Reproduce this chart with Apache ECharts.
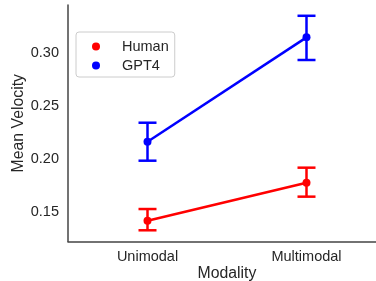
<!DOCTYPE html>
<html>
<head>
<meta charset="utf-8">
<style>
  html, body { margin: 0; padding: 0; background: #fff; }
  #myChart { width: 376px; height: 281px; }
</style>
<script src="https://cdn.jsdelivr.net/npm/echarts@6/dist/echarts.min.js"></script>
</head>
<body>
<div id="myChart"></div>
<script>
// data
const categories = ['Unimodal', 'Multimodal']
const humanMean = [0.1418, 0.1777]
const humanLow = [0.1327, 0.1645]
const humanHigh = [0.1528, 0.1919]
const gptMean = [0.2164, 0.3151]
const gptLow = [0.1985, 0.2937]
const gptHigh = [0.2344, 0.3355]
const yTicks = [0.15, 0.20, 0.25, 0.30]

const font = "'Liberation Sans', Arial, sans-serif"
const textColor = '#262626'

// vertical error bar with caps
function errorBar (color) {
  return function (params, api) {
    const lo = api.coord([api.value(0), api.value(1)])
    const hi = api.coord([api.value(0), api.value(2)])
    const cap = 9
    const style = { stroke: color, lineWidth: 2.5 }
    return {
      type: 'group',
      children: [
        { type: 'line', shape: { x1: lo[0], y1: lo[1], x2: hi[0], y2: hi[1] }, style: style },
        { type: 'line', shape: { x1: lo[0] - cap, y1: lo[1], x2: lo[0] + cap, y2: lo[1] }, style: style },
        { type: 'line', shape: { x1: hi[0] - cap, y1: hi[1], x2: hi[0] + cap, y2: hi[1] }, style: style }
      ]
    }
  }
}

let myChart = echarts.init(document.getElementById('myChart'))
myChart.setOption({
  animation: false,
  textStyle: { fontFamily: font, color: textColor },
  grid: {
    left: 68,
    top: 5,
    width: 318,
    bottom: 39.5,
    containLabel: false,
    outerBoundsMode: 'none'
  },
  legend: {
    orient: 'vertical',
    left: 76,
    top: 32,
    padding: [7, 6, 4, 16],
    itemGap: 4,
    itemWidth: 8,
    itemHeight: 8,
    icon: 'circle',
    borderColor: '#cccccc',
    borderWidth: 1,
    borderRadius: 3,
    backgroundColor: '#ffffff',
    data: ['Human', 'GPT4'],
    textStyle: {
      fontFamily: font,
      fontSize: 14.5,
      color: textColor,
      padding: [0, 0, 0, 17]
    }
  },
  xAxis: {
    type: 'category',
    data: categories,
    boundaryGap: true,
    name: 'Modality',
    nameLocation: 'middle',
    nameGap: 24,
    nameMoveOverlap: false,
    nameTextStyle: { fontFamily: font, fontSize: 15.8, color: textColor },
    axisLine: { lineStyle: { color: '#444444', width: 1.5 } },
    axisTick: { show: false },
    axisLabel: { fontFamily: font, fontSize: 14.5, color: textColor, margin: 8 },
    splitLine: { show: false }
  },
  yAxis: {
    type: 'value',
    min: 0.1221,
    max: 0.3457,
    name: 'Mean Velocity',
    nameLocation: 'middle',
    nameGap: 41,
    nameMoveOverlap: false,
    nameTextStyle: { fontFamily: font, fontSize: 15.8, color: textColor },
    axisLine: { show: true, lineStyle: { color: '#444444', width: 1.5 } },
    axisTick: { show: false },
    axisLabel: {
      fontFamily: font,
      fontSize: 14.5,
      color: textColor,
      margin: 9,
      customValues: yTicks,
      formatter: function (v) { return v.toFixed(2) }
    },
    splitLine: { show: false }
  },
  series: [
    {
      name: 'Human',
      type: 'line',
      data: humanMean,
      symbol: 'circle',
      symbolSize: 8,
      itemStyle: { color: '#ff0000' },
      lineStyle: { color: '#ff0000', width: 2.5 },
      z: 3
    },
    {
      name: 'GPT4',
      type: 'line',
      data: gptMean,
      symbol: 'circle',
      symbolSize: 8,
      itemStyle: { color: '#0000ff' },
      lineStyle: { color: '#0000ff', width: 2.5 },
      z: 3
    },
    {
      type: 'custom',
      name: 'HumanErr',
      renderItem: errorBar('#ff0000'),
      encode: { x: 0, y: [1, 2] },
      data: categories.map((c, i) => [i, humanLow[i], humanHigh[i]]),
      z: 2
    },
    {
      type: 'custom',
      name: 'GPT4Err',
      renderItem: errorBar('#0000ff'),
      encode: { x: 0, y: [1, 2] },
      data: categories.map((c, i) => [i, gptLow[i], gptHigh[i]]),
      z: 2
    }
  ]
})
</script>
</body>
</html>
